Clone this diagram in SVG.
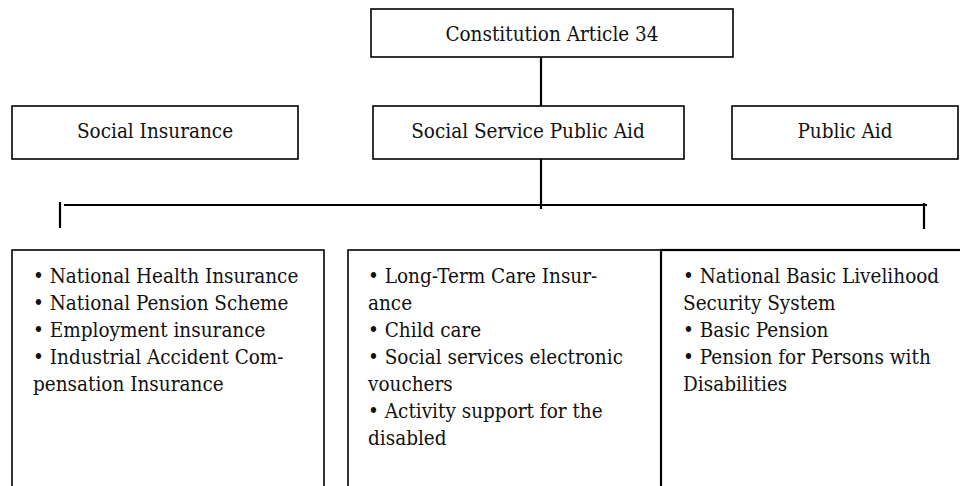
<svg xmlns="http://www.w3.org/2000/svg" width="960" height="486" viewBox="0 0 960 486">
<style>
.box{fill:#fff;stroke:#000;stroke-width:1.6}
.t{font-family:'DejaVu Serif Condensed','DejaVu Serif',serif;font-stretch:condensed;font-size:20.5px;fill:#111}
.c{text-anchor:middle}
.ln{stroke:#000;stroke-width:2.2;fill:none}
</style>
<rect width="960" height="486" fill="#fff"/>
<g id="connectors">
<line class="ln" x1="541" y1="57" x2="541" y2="106"/>
<line class="ln" x1="541" y1="159" x2="541" y2="209"/>
<line class="ln" x1="64" y1="205" x2="927" y2="205"/>
<line class="ln" x1="60" y1="202" x2="60" y2="228"/>
<line class="ln" x1="924" y1="203" x2="924" y2="229"/>
</g>
<g id="constitution">
<rect class="box" x="371" y="9" width="362" height="48"/>
<text class="t c" x="552" y="41">Constitution Article 34</text>
</g>
<g id="social-insurance">
<rect class="box" x="12" y="106" width="286" height="53"/>
<text class="t c" x="155" y="138">Social Insurance</text>
</g>
<g id="social-service">
<rect class="box" x="373" y="106" width="311" height="53"/>
<text class="t c" x="528" y="138">Social Service Public Aid</text>
</g>
<g id="public-aid">
<rect class="box" x="732" y="106" width="226" height="53"/>
<text class="t c" x="845" y="138">Public Aid</text>
</g>
<g id="list-insurance">
<rect class="box" x="12" y="250" width="312" height="250"/>
<text class="t" x="33" y="283">• National Health Insurance</text>
<text class="t" x="33" y="310">• National Pension Scheme</text>
<text class="t" x="33" y="337">• Employment insurance</text>
<text class="t" x="33" y="364">• Industrial Accident Com-</text>
<text class="t" x="33" y="391">pensation Insurance</text>
</g>
<g id="list-service">
<rect class="box" x="348" y="250" width="313" height="250"/>
<text class="t" x="368" y="283">• Long-Term Care Insur-</text>
<text class="t" x="368" y="310">ance</text>
<text class="t" x="368" y="337">• Child care</text>
<text class="t" x="368" y="364">• Social services electronic</text>
<text class="t" x="368" y="391">vouchers</text>
<text class="t" x="368" y="418">• Activity support for the</text>
<text class="t" x="368" y="445">disabled</text>
</g>
<g id="list-aid">
<rect class="box" x="661" y="250" width="320" height="250" style="stroke-width:2.2"/>
<text class="t" x="683" y="283">• National Basic Livelihood</text>
<text class="t" x="683" y="310">Security System</text>
<text class="t" x="683" y="337">• Basic Pension</text>
<text class="t" x="683" y="364">• Pension for Persons with</text>
<text class="t" x="683" y="391">Disabilities</text>
</g>
</svg>
